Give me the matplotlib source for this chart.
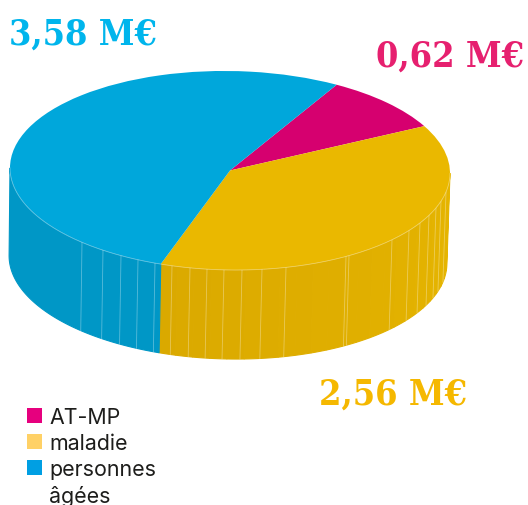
import numpy as np
import matplotlib
matplotlib.use("Agg")
import matplotlib.pyplot as plt
from matplotlib.colors import to_rgb
from matplotlib.patches import Patch
from matplotlib.transforms import Affine2D

W, H = 528, 506

# values in M€
categories = ["AT-MP", "maladie", "personnes", "âgées"]
values = [0.62, 2.56, 3.58]
value_labels = ["0,62 M€", "2,56 M€", "3,58 M€"]

top_colors = ["#D6006F", "#EAB800", "#00A7DB"]
side_colors = [("#C00064", "#C00064"), ("#DAA900", "#E6B500"), ("#0097C6", "#0097C6")]
legend_colors = ["#E6007E", "#FFD166", "#009FE3", "none"]
label_colors = ["#E6206F", "#F5B800", "#00B5EC"]

# thin light seams on the side of the cake, x in pixels
seams_x = [82, 103, 121, 138, 155, 172, 190, 207, 224, 242, 262, 286,
           346, 349, 392, 409, 420, 429, 436, 441, 446]

CX, CY, RX, RY = 230, 171.5, 220, 99.5
DEPTH = 89 / RY
SHIFT = -2 / RX
BOTTOM_TILT = 0.005 * RX / RY

fig = plt.figure(figsize=(W / 100, H / 100), dpi=100)
ax = fig.add_axes([0, 0, 1, 1])

wedges, _ = ax.pie(values, colors=top_colors, startangle=61, counterclock=False,
                   radius=1, wedgeprops={"linewidth": 0, "zorder": 3})

ax.set_aspect("auto")
ax.set_xlim(-CX / RX, (W - CX) / RX)
ax.set_ylim((CY - H) / RY, CY / RY)
ax.axis("off")

# the picture is a little rotated, right side lower
k = 0.012 * RX / RY
tilt = Affine2D.from_values(1, -k, 0, 1, 0, 0) + ax.transData
for w in wedges:
    w.set_transform(tilt)
    w.set_clip_on(False)


def wall(t1, t2, c1, c2):
    steps = 1 if c1 == c2 else 24
    edges = np.linspace(t1, t2, steps + 1)
    c1, c2 = np.array(to_rgb(c1)), np.array(to_rgb(c2))
    for i in range(steps):
        t = np.radians(np.linspace(edges[i], edges[i + 1], 100 // steps + 4))
        x = np.cos(t)
        y = np.sin(t)
        xs = np.concatenate([x, (x * 0.995 + SHIFT)[::-1]])
        ys = np.concatenate([y, (y - DEPTH - BOTTOM_TILT * x)[::-1]])
        ax.fill(xs, ys, color=c1 + (c2 - c1) * i / max(steps - 1, 1), lw=0.8, zorder=0,
                transform=tilt, clip_on=False)


# side wall, front half only (180..360 deg)
for w, (c1, c2) in zip(wedges, side_colors):
    for shift in (-360, 0, 360):
        a = max(w.theta1 + shift, 180)
        b = min(w.theta2 + shift, 360)
        if b > a:
            wall(a, b, c1, c2)

# light rim on the front edge of the top
t = np.radians(np.linspace(180, 360, 200))
ax.plot(np.cos(t), np.sin(t), color="white", lw=0.6, alpha=0.4, zorder=4, transform=tilt)

for sx in seams_x:
    ux = (sx - CX) / RX
    uy = -np.sqrt(1 - ux ** 2)
    ax.plot([ux, ux * 0.995 + SHIFT], [uy, uy - DEPTH - BOTTOM_TILT * ux], color="white",
            lw=0.6, alpha=0.35, zorder=2, transform=tilt)

# value labels
label_pos = [(376, 67), (319, 405), (9, 45)]
for txt, col, (px, py) in zip(value_labels, label_colors, label_pos):
    fig.text(px / W, 1 - py / H, txt, color=col, fontsize=25.8, fontweight="bold",
             family="DejaVu Serif", stretch="condensed", ha="left", va="baseline")

handles = [Patch(facecolor=c, edgecolor="none") for c in legend_colors]
leg = fig.legend(handles, categories, loc="upper left",
                 bbox_to_anchor=(27 / W, 1 - 408 / H), borderaxespad=0, borderpad=0,
                 frameon=False, handlelength=0.7, handleheight=0.7, handletextpad=0.33,
                 labelspacing=0.28, prop={"family": "Inter", "size": 15.4})
for t_ in leg.get_texts():
    t_.set_color("#1D1D1B")

fig.savefig("out.png", dpi=100)
